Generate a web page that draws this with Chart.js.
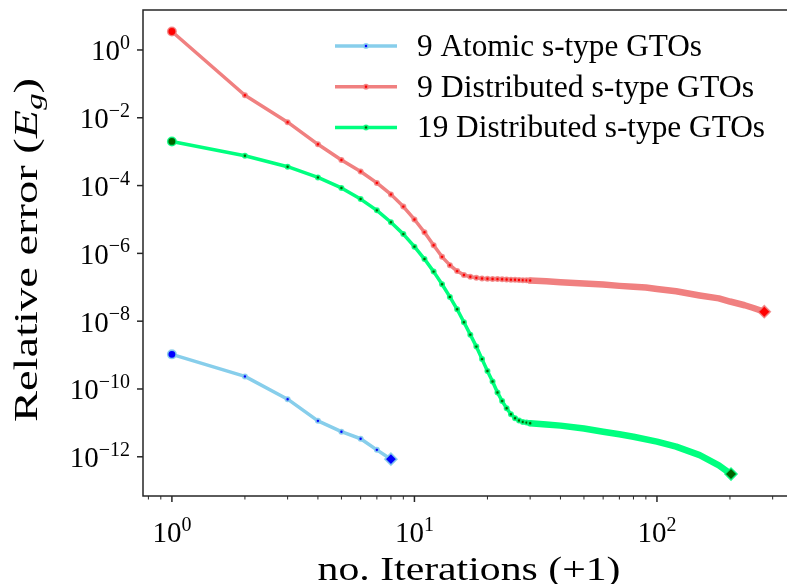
<!DOCTYPE html>
<html>
<head>
<meta charset="utf-8">
<script src="https://cdn.jsdelivr.net/npm/chart.js@4.4.1/dist/chart.umd.min.js"></script>
<style>
  html, body { margin: 0; padding: 0; background: #fff; overflow: hidden; }
  #wrap { width: 800px; height: 584px; }
</style>
</head>
<body>
<div id="wrap"><canvas id="myChart" width="800" height="584"></canvas></div>
<script>
// ********* DATA *********
const seriesLabels = ["9 Atomic s-type GTOs", "9 Distributed s-type GTOs", "19 Distributed s-type GTOs"];

const atomicIter = [1, 2, 3, 4, 5, 6, 7, 8];
const atomicError = [1.05e-9, 2.35e-10, 5.0e-11, 1.15e-11, 5.5e-12, 3.4e-12, 1.6e-12, 8.5e-13];

const dist9Iter = [1, 2, 3, 4, 5, 6, 7, 8, 9, 10, 11, 12, 13, 14, 15, 16, 17, 18, 19, 20,
  21, 22, 23, 24, 25, 26, 27, 28, 29, 30, 35, 40, 50, 60, 70, 80, 90, 100, 120, 150, 180, 200, 230, 250, 277];
const dist9Error = [3.5, 4.6e-2, 7.4e-3, 1.65e-3, 5.7e-4, 2.6e-4, 1.2e-4, 5.5e-5, 2.4e-5, 1.0e-5,
  4.2e-6, 1.74e-6, 7.9e-7, 4.5e-7, 3.0e-7, 2.3e-7, 2.04e-7, 1.9e-7, 1.82e-7, 1.78e-7,
  1.76e-7, 1.74e-7, 1.72e-7, 1.7e-7, 1.68e-7, 1.66e-7, 1.64e-7, 1.62e-7, 1.6e-7, 1.58e-7,
  1.5e-7, 1.41e-7, 1.29e-7, 1.2e-7, 1.1e-7, 1.04e-7, 9.8e-8, 8.9e-8, 7.6e-8, 5.75e-8, 4.7e-8, 3.8e-8, 2.95e-8, 2.45e-8, 1.9e-8];

const dist19Iter = [1, 2, 3, 4, 5, 6, 7, 8, 9, 10, 11, 12, 13, 14, 15, 16, 17, 18, 19, 20,
  21, 22, 23, 24, 25, 26, 27, 28, 29, 30, 35, 40, 50, 60, 70, 80, 100, 120, 150, 180, 202];
const dist19Error = [2.0e-3, 7.6e-4, 3.6e-4, 1.74e-4, 8.5e-5, 4.0e-5, 1.86e-5, 8.3e-6, 3.7e-6, 1.58e-6,
  6.8e-7, 2.9e-7, 1.23e-7, 5.2e-8, 2.24e-8, 9.3e-9, 4.0e-9, 1.78e-9, 7.6e-10, 3.4e-10,
  1.66e-10, 7.9e-11, 4.4e-11, 2.7e-11, 1.8e-11, 1.38e-11, 1.17e-11, 1.07e-11, 1.02e-11, 9.8e-12,
  8.9e-12, 8.3e-12, 6.8e-12, 5.5e-12, 4.6e-12, 3.9e-12, 2.8e-12, 2.0e-12, 1.12e-12, 5.6e-13, 3.1e-13];

// tick labels
const xMajorTicks = [1, 10, 100];
const xMajorExps = ["0", "1", "2"];
const xMinorTicks = [0.8, 0.9, 2, 3, 4, 5, 6, 7, 8, 9, 20, 30, 40, 50, 60, 70, 80, 90, 200, 300];
const yMajorTicks = [1, 1e-2, 1e-4, 1e-6, 1e-8, 1e-10, 1e-12];
const yMajorExps = ["0", "\u22122", "\u22124", "\u22126", "\u22128", "\u221210", "\u221212"];

const xTitle = "no. Iterations (+1)";
const yTitle = "Relative error (";

// ********* STYLE HELPERS *********
const serif = "\"Liberation Serif\", serif";

// draw a row of text parts, stretched to a target width
const drawParts = (ctx, parts, x, y, targetWidth, align) => {
  let natural = 0;
  parts.forEach((p) => {
    ctx.font = p.font;
    p.w = ctx.measureText(p.text).width;
    natural += p.w;
  });
  const sx = targetWidth ? targetWidth / natural : 1;
  const total = natural * sx;
  let startX = x;
  if (align == "center") startX = x - total / 2;
  if (align == "right") startX = x - total;
  ctx.save();
  ctx.translate(startX, y);
  ctx.scale(sx, 1);
  let cx = 0;
  ctx.textAlign = "left";
  ctx.textBaseline = "alphabetic";
  parts.forEach((p) => {
    ctx.font = p.font;
    ctx.fillText(p.text, cx, p.dy || 0);
    cx += p.w;
  });
  ctx.restore();
};

const powerLabel = (exp) => [
  { text: "10", font: "29px " + serif },
  { text: exp, font: "20px " + serif, dy: -11.5 },
];

// ********* PLUGIN: frame, ticks, labels, titles, legend *********
const axesPlugin = {
  id: "axesPlugin",
  afterDraw(chart) {
    const ctx = chart.ctx;
    const area = chart.chartArea;
    const xs = chart.scales.x;
    const ys = chart.scales.y;
    ctx.save();
    ctx.fillStyle = "#000";
    ctx.strokeStyle = "#262626";
    ctx.lineWidth = 1.5;

    const tick = (x1, y1, x2, y2) => {
      ctx.beginPath();
      ctx.moveTo(x1, y1);
      ctx.lineTo(x2, y2);
      ctx.stroke();
    };
    // x ticks
    xMajorTicks.forEach((v, i) => {
      const px = xs.getPixelForValue(v);
      tick(px, area.bottom, px, area.bottom + 6);
      drawParts(ctx, powerLabel(xMajorExps[i]), px, 542, null, "center");
    });
    ctx.lineWidth = 1;
    xMinorTicks.forEach((v) => {
      const px = xs.getPixelForValue(v);
      tick(px, area.bottom, px, area.bottom + 3.5);
    });
    ctx.lineWidth = 1.5;

    // y ticks
    yMajorTicks.forEach((v, i) => {
      const py = ys.getPixelForValue(v);
      tick(area.left - 6, py, area.left, py);
      drawParts(ctx, powerLabel(yMajorExps[i]), 130, py + 10.5, null, "right");
    });

    // frame
    ctx.strokeRect(area.left, area.top, area.right - area.left, area.bottom - area.top);

    // axis titles
    drawParts(ctx, [{ text: xTitle, font: "34px " + serif }], 469, 580, 303, "center");
    ctx.save();
    ctx.translate(37, 250);
    ctx.rotate(-Math.PI / 2);
    drawParts(ctx, [
      { text: yTitle, font: "34px " + serif },
      { text: "E", font: "italic 34px " + serif },
      { text: "g", font: "italic 24px " + serif, dy: 5 },
      { text: ")", font: "34px " + serif },
    ], 0, 0, 344, "center");
    ctx.restore();

    // legend
    const widths = [285, 337, 348];
    chart.data.datasets.forEach((ds, i) => {
      const ly = 46 + i * 40.7;
      ctx.strokeStyle = ds.borderColor;
      ctx.lineWidth = 3.5;
      tick(335, ly, 397, ly);
      ctx.beginPath();
      ctx.arc(366, ly, 2.1, 0, Math.PI * 2);
      ctx.fillStyle = ds.dotColor;
      ctx.fill();
      ctx.lineWidth = 1.8;
      ctx.strokeStyle = ds.haloColor;
      ctx.stroke();
      ctx.fillStyle = "#000";
      drawParts(ctx, [{ text: ds.label, font: "31px " + serif }], 417, ly + 10, widths[i], "left");
    });
    ctx.restore();
  },
};

// ********* DATASETS *********
const makeDataset = (label, iters, errors, lineColor, haloColor, dotColor) => ({
  label: label,
  data: iters.map((x, i) => ({ x: x, y: errors[i] })),
  borderColor: lineColor,
  haloColor: haloColor,
  dotColor: dotColor,
  borderWidth: 3.5,
  borderJoinStyle: "round",
  borderCapStyle: "round",
  tension: 0,
  fill: false,
  segment: {
    // dense markers in the tail merge into a wider band
    borderWidth: (ctx) => (ctx.p0.parsed.x >= 30 ? 6.5 : 3.5),
  },
  pointStyle: (ctx) => (ctx.dataIndex == iters.length - 1 ? "rectRot" : "circle"),
  pointRadius: (ctx) => {
    if (ctx.dataIndex == 0) return 4.2;
    if (ctx.dataIndex == iters.length - 1) return 6;
    return iters[ctx.dataIndex] > 30 ? 0 : 2.1;
  },
  pointBorderWidth: (ctx) => (ctx.dataIndex == 0 || ctx.dataIndex == iters.length - 1 ? 1.6 : 1.8),
  pointBackgroundColor: dotColor,
  pointBorderColor: haloColor,
  pointHoverRadius: 0,
});

const datasets = [
  makeDataset(seriesLabels[0], atomicIter, atomicError, "#87CEEB", "rgba(135,206,235,0.9)", "#0000FF"),
  makeDataset(seriesLabels[1], dist9Iter, dist9Error, "#F08080", "rgba(240,128,128,0.85)", "#FF0000"),
  makeDataset(seriesLabels[2], dist19Iter, dist19Error, "#00FF7F", "rgba(0,255,127,0.85)", "#006400"),
];

// ********* CHART *********
const ctx = document.getElementById("myChart");
const myChartView = new Chart(ctx, {
  type: "line",
  data: { datasets: datasets },
  plugins: [axesPlugin],
  options: {
    responsive: false,
    animation: false,
    events: [],
    layout: { padding: { top: 10, right: 5, left: 0, bottom: 0 } },
    plugins: { legend: { display: false }, tooltip: { enabled: false } },
    scales: {
      x: {
        type: "logarithmic",
        min: 0.76,
        max: 361.8,
        grid: { display: false },
        border: { display: false },
        ticks: { display: false },
        afterFit: (scale) => { scale.height = 88; },
      },
      y: {
        type: "logarithmic",
        min: 6.97e-14,
        max: 15.1,
        grid: { display: false },
        border: { display: false },
        ticks: { display: false },
        afterFit: (scale) => { scale.width = 143; },
      },
    },
  },
});
</script>
</body>
</html>
